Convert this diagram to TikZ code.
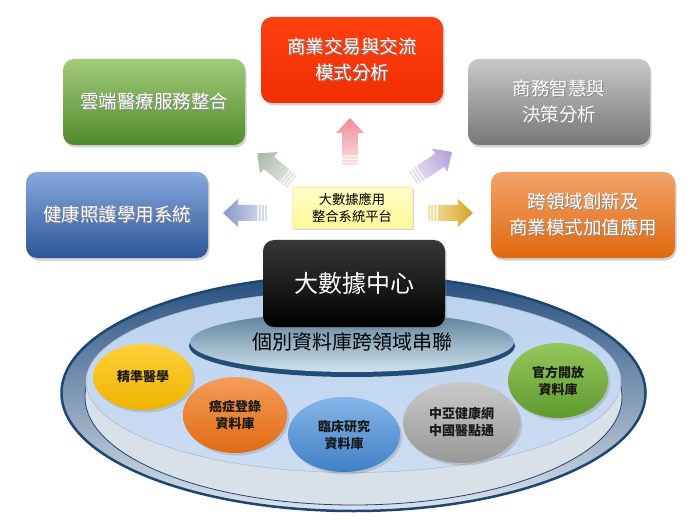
\documentclass[tikz,border=0pt]{standalone}
\usepackage{fontspec}
\setmainfont{Noto Sans CJK TC}
\usetikzlibrary{shapes.geometric,shadows}
\definecolor{redA}{HTML}{FF4010}\definecolor{redB}{HTML}{F02E00}
\definecolor{grnA}{HTML}{A2CB78}\definecolor{grnB}{HTML}{4F8A2E}
\definecolor{gryA}{HTML}{C8C8C8}\definecolor{gryB}{HTML}{777777}
\definecolor{bluA}{HTML}{86A9DD}\definecolor{bluB}{HTML}{2D5597}
\definecolor{orgA}{HTML}{F3A36A}\definecolor{orgB}{HTML}{E0680C}
\definecolor{ylwA}{HTML}{FFFFC8}\definecolor{ylwB}{HTML}{FFF899}
\definecolor{rimA}{HTML}{244E7E}\definecolor{rimM}{HTML}{8BA2BE}\definecolor{rimB}{HTML}{DCE2EA}
\definecolor{rimLine}{HTML}{1E4673}
\definecolor{faceC}{HTML}{D8E0E8}\definecolor{surfA}{HTML}{BBD2EE}\definecolor{surfB}{HTML}{CCDDF3}
\definecolor{midA}{HTML}{557E98}\definecolor{midB}{HTML}{D2E2EC}\definecolor{midEdge}{HTML}{1F4E79}
\definecolor{eYA}{HTML}{FFD03A}\definecolor{eYB}{HTML}{EFB300}
\definecolor{eOA}{HTML}{F59D5C}\definecolor{eOB}{HTML}{DF6A12}
\definecolor{eBA}{HTML}{86B6E8}\definecolor{eBB}{HTML}{3F80C6}
\definecolor{eGA}{HTML}{C9C9C9}\definecolor{eGB}{HTML}{989898}
\definecolor{eLA}{HTML}{95C75C}\definecolor{eLB}{HTML}{5F9A2E}
\definecolor{apinkA}{HTML}{FBE1E3}\definecolor{apinkB}{HTML}{EF8C95}
\definecolor{asageA}{HTML}{E6EBE6}\definecolor{asageB}{HTML}{A8B7A8}
\definecolor{alavA}{HTML}{EAE3F4}\definecolor{alavB}{HTML}{B09FD8}
\definecolor{ablueA}{HTML}{DCE2F0}\definecolor{ablueB}{HTML}{8797C8}
\definecolor{agoldA}{HTML}{F4E3AE}\definecolor{agoldB}{HTML}{D6A322}
\newcommand\myarrow[3]{% length, tail colour, tip colour
  \shade[left color=#2,right color=#3]
    (0,-8) rectangle (2,8)
    (3.2,-8) rectangle (5.2,8)
    (6.4,-8) rectangle (8.4,8)
    (9.6,-8) -- ({#1-15},-8) -- ({#1-15},-14) -- (#1,0) -- ({#1-15},14) -- ({#1-15},8) -- (9.6,8) -- cycle;}
\newcommand\shtxt[1]{\rlap{\hspace{1pt}\raisebox{-1pt}{\textcolor{black!45}{#1}}}#1}
\begin{document}
\begin{tikzpicture}[x=1pt,y=-1pt,
  bigbox/.style={rounded corners=11pt, minimum width=182pt, minimum height=86pt, inner sep=0pt,
    text=white, align=center, font=\fontsize{18.5}{26}\selectfont,
    drop shadow={opacity=0.35,shadow xshift=1.5pt,shadow yshift=-2.5pt}},
  dbell/.style={ellipse, inner sep=0pt, align=center, text=black!90,
    font=\bfseries\fontsize{13}{17}\selectfont,
    drop shadow={opacity=0.3,shadow xshift=2pt,shadow yshift=-2.5pt}},
  plate/.style={ellipse, inner sep=0pt}
]
\useasboundingbox (0,0) rectangle (700,526);
\fill[white] (0,0) rectangle (700,526);

% ---- plate ----
\node[plate, minimum width=584pt, minimum height=236pt, draw=rimLine, line width=2.5pt,
  top color=rimA, middle color=rimM, bottom color=rimB] (rim) at (353.5,393) {};
\node[plate, minimum width=537pt, minimum height=216pt, fill=faceC, draw=rimLine, line width=0.8pt] (face) at (353.5,397) {};
\node[plate, minimum width=535pt, minimum height=182pt, top color=surfA, bottom color=surfB,
  draw=surfA!70!gray, line width=0.5pt] (surface) at (353.5,381.5) {};

% ---- middle link ellipse ----
\node[plate, minimum width=326pt, minimum height=62pt, fill=midEdge] (midshadow) at (352,346) {};
\node[plate, minimum width=324pt, minimum height=60pt, top color=midA, bottom color=midB,
  font=\fontsize{20}{24}\selectfont, text=black] (link) at (352,342) {\raisebox{-5pt}{個別資料庫跨領域串聯}};

% ---- database ellipses ----
\node[dbell, minimum width=100pt, minimum height=66pt, top color=eYA, bottom color=eYB] (precise) at (143,377) {精準醫學};
\node[dbell, minimum width=104pt, minimum height=76pt, top color=eOA, bottom color=eOB] (cancer) at (235,415) {癌症登錄\\資料庫};
\node[dbell, minimum width=112pt, minimum height=75pt, top color=eBA, bottom color=eBB] (clinic) at (344,434.5) {臨床研究\\資料庫};
\node[dbell, minimum width=117pt, minimum height=81pt, top color=eGA, bottom color=eGB] (cmu) at (461.5,422.5) {中亞健康網\\中國醫點通};
\node[dbell, minimum width=100pt, minimum height=75pt, top color=eLA, bottom color=eLB] (open) at (558,380.5) {官方開放\\資料庫};

% ---- big data centre ----
\node[bigbox, top color=black!78, bottom color=black, minimum height=87pt,
  font=\fontsize{24}{28}\selectfont] (center) at (354,283.5) {大數據中心};

% ---- application boxes ----
\node[bigbox, top color=redA, bottom color=redB] (trade) at (352,60) {\shtxt{商業交易與交流}\\\shtxt{模式分析}};
\node[bigbox, top color=grnA, bottom color=grnB] (cloud) at (154,102) {\shtxt{雲端醫療服務整合}};
\node[bigbox, top color=gryA, bottom color=gryB] (bi) at (559,102) {\shtxt{商務智慧與}\\\shtxt{決策分析}};
\node[bigbox, top color=bluA, bottom color=bluB] (health) at (117,215) {\shtxt{健康照護學用系統}};
\node[bigbox, top color=orgA, bottom color=orgB, minimum width=184pt] (cross) at (583,215) {\shtxt{跨領域創新及}\\\shtxt{商業模式加值應用}};

% ---- platform ----
\node[draw=ylwB!60!orange!40, line width=0.4pt, top color=ylwA, bottom color=ylwB,
  minimum width=120pt, minimum height=41pt, inner sep=0pt, align=center,
  font=\fontsize{13.3}{17}\selectfont,
  drop shadow={opacity=0.3,shadow xshift=1.5pt,shadow yshift=-2pt}] (platform) at (352,207.5) {大數據應用\\整合系統平台};

% ---- block arrows ----
\coordinate (tUp) at (350,165);
\coordinate (tUL) at (292,182);
\coordinate (tUR) at (413,178);
\coordinate (tL) at (267,213);
\coordinate (tR) at (428,213);
\begin{scope}[transform canvas={shift={(tUp)},rotate=90}]\myarrow{47}{apinkA}{apinkB}\end{scope}
\begin{scope}[transform canvas={shift={(tUL)},rotate=140.4}]\myarrow{45}{asageA}{asageB}\end{scope}
\begin{scope}[transform canvas={shift={(tUR)},rotate=33.7}]\myarrow{47}{alavA}{alavB}\end{scope}
\begin{scope}[transform canvas={shift={(tL)},rotate=180}]\myarrow{44}{ablueA}{ablueB}\end{scope}
\begin{scope}[transform canvas={shift={(tR)},rotate=0}]\myarrow{45}{agoldA}{agoldB}\end{scope}
\end{tikzpicture}
\end{document}
